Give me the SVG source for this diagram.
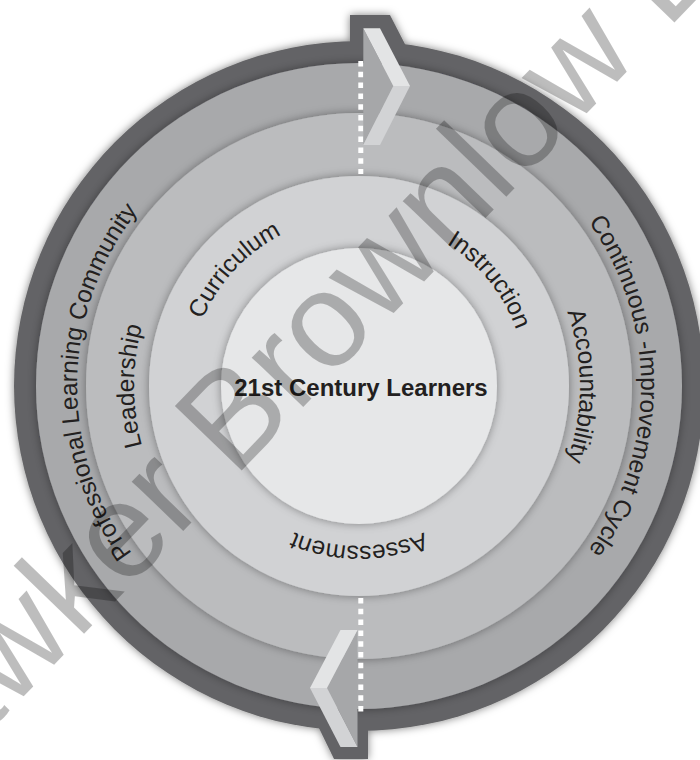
<svg xmlns="http://www.w3.org/2000/svg" width="700" height="760" viewBox="0 0 700 760">
  <defs>
    <style>
      .lbl{font-family:"Liberation Sans",Arial,sans-serif;font-size:24.5px;fill:#231f20}
      .title{font-family:"Liberation Sans",Arial,sans-serif;font-size:24px;font-weight:bold;fill:#231f20}
      .dots{fill:none;stroke:#ffffff;stroke-width:5;stroke-dasharray:5.5 5.3}
      .hi{fill:#e3e4e5}
      .lo{fill:#d2d3d5}
      .side{fill:#a6a7a9}
      .mark{font-family:"Liberation Sans",Arial,sans-serif;font-size:135px;fill:#000000;fill-opacity:.26}
    </style>
    <filter id="edge" x="-10%" y="-10%" width="120%" height="120%">
      <feDropShadow dx="0" dy="0" stdDeviation="4" flood-color="#000" flood-opacity="0.5"/>
    </filter>
    <filter id="lift" x="-15%" y="-15%" width="130%" height="130%">
      <feDropShadow dx="0" dy="0" stdDeviation="5" flood-color="#000" flood-opacity="0.38"/>
    </filter>
    <!-- clockwise baselines, centre (359,386) -->
    <path id="arc-plc" d="M329.52,666.45 A282,282 0 0 1 339.33,104.69"/>
    <path id="arc-cic" d="M383.58,105.07 A282,282 0 0 1 383.58,666.93"/>
    <path id="arc-lead" d="M339.39,610.14 A225,225 0 0 1 339.39,161.86"/>
    <path id="arc-acc" d="M378.26,165.84 A221,221 0 0 1 378.26,606.16"/>
    <path id="arc-cur" d="M232.67,499.75 A170,170 0 0 1 463.66,252.04"/>
    <path id="arc-ins" d="M265.62,247.55 A167,167 0 0 1 475.01,506.13"/>
    <path id="arc-ass" d="M518.39,399.94 A160,160 0 0 1 199.61,399.94"/>
  </defs>

  <!-- outer cycle band with the two tabs that hold the arrows -->
  <g id="cycle-band">
    <g filter="url(#edge)" fill="#646466">
      <circle cx="359" cy="386" r="345"/>
      <polygon points="350,50 350,15 390,15 407,48"/>
      <polygon points="316,722 334,759 368,759 368,722"/>
    </g>
  </g>

  <g id="plc-ring">
    <circle cx="359" cy="386" r="323" fill="#a8a9ab" filter="url(#lift)"/>
    <text class="lbl"><textPath href="#arc-plc" startOffset="50%" text-anchor="middle">Professional Learning Community</textPath></text>
    <text class="lbl"><textPath href="#arc-cic" startOffset="50%" text-anchor="middle">Continuous -Improvement Cycle</textPath></text>
  </g>

  <g id="leadership-ring">
    <circle cx="359" cy="386" r="273" fill="#bbbcbe" filter="url(#lift)"/>
    <text class="lbl"><textPath href="#arc-lead" startOffset="50%" text-anchor="middle">Leadership</textPath></text>
    <text class="lbl"><textPath href="#arc-acc" startOffset="50%" text-anchor="middle">Accountability</textPath></text>
  </g>

  <g id="core-ring">
    <circle cx="359" cy="386" r="210" fill="#d1d2d4" filter="url(#lift)"/>
    <text class="lbl"><textPath href="#arc-cur" startOffset="50%" text-anchor="middle">Curriculum</textPath></text>
    <text class="lbl"><textPath href="#arc-ins" startOffset="50%" text-anchor="middle">Instruction</textPath></text>
    <text class="lbl"><textPath href="#arc-ass" startOffset="50%" text-anchor="middle">Assessment</textPath></text>
  </g>

  <g id="learners">
    <circle cx="359" cy="386" r="138" fill="#e6e7e8" filter="url(#lift)"/>
    <text class="title" x="361" y="396" text-anchor="middle">21st Century Learners</text>
  </g>

  <!-- cycle arrows and dotted dividers -->
  <g id="connectors">
    <line class="dots" x1="360.8" y1="61" x2="360.8" y2="174"/>
    <line class="dots" x1="360.8" y1="598" x2="360.8" y2="712"/>
    <g id="arrow-top">
      <polygon class="side" points="363.3,28.3 393.3,86 363.3,145"/>
      <polygon class="hi" points="363.3,28.3 380,28.3 410,86 393.3,86"/>
      <polygon class="lo" points="393.3,86 410,86 380,145 363.3,145"/>
    </g>
    <g id="arrow-bottom">
      <polygon class="side" points="357.5,630 327,688 357.5,747"/>
      <polygon class="hi" points="340.5,630 357.5,630 327,688 310,688"/>
      <polygon class="lo" points="310,688 327,688 357.5,747 340.5,747"/>
    </g>
  </g>

  <text class="mark" transform="translate(234,478.5) rotate(-46)" x="-495" y="0">Hawker Brownlow Education</text>
</svg>
